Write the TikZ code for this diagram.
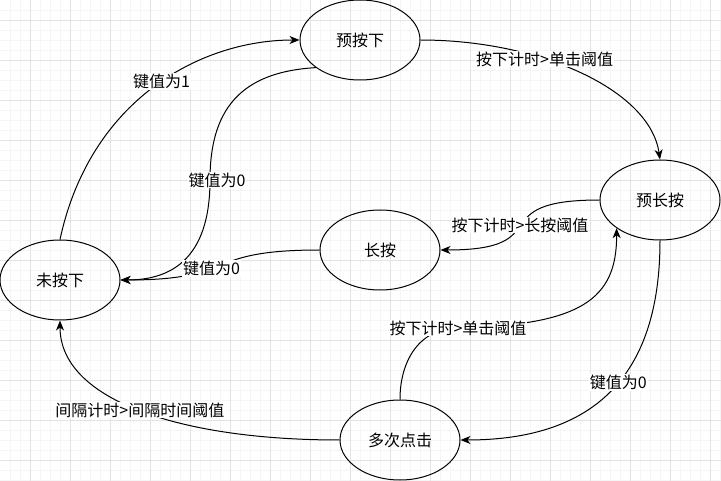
\documentclass[tikz,border=0pt]{standalone}
\usepackage{fontspec}
\setmainfont{Noto Sans CJK SC}
\usetikzlibrary{shapes.geometric,arrows.meta}

\begin{document}
\begin{tikzpicture}[x=1pt,y=-1pt,
  toestand/.style={ellipse, draw, line width=1pt, minimum width=120pt, minimum height=80pt, inner sep=0pt, font=\fontsize{16}{19}\selectfont},
  pijl/.style={line width=1pt, -{Stealth[length=10pt,width=8pt,inset=3pt]}},
  lbl/.style={fill=white, inner sep=1pt, font=\fontsize{16}{19}\selectfont}]
\useasboundingbox (0,0) rectangle (721,481);

% Raster (fijn en grof)
\foreach \x in {10,20,...,720} \draw[black!4, line width=1pt] (\x+0.5,0) -- (\x+0.5,481);
\foreach \y in {10,20,...,480} \draw[black!4, line width=1pt] (0,\y+0.5) -- (721,\y+0.5);
\foreach \x in {30,70,...,710} \draw[black!11, line width=1pt] (\x+0.5,0) -- (\x+0.5,481);
\foreach \y in {20,60,...,460} \draw[black!11, line width=1pt] (0,\y+0.5) -- (721,\y+0.5);

% Toestanden
\node[toestand] (yuan) at (360,40) {预按下};
\node[toestand] (yuchang) at (660,200) {预长按};
\node[toestand] (chang) at (380,250) {长按};
\node[toestand] (wei) at (60,280) {未按下};
\node[toestand] (duo) at (400,440) {多次点击};

% Overgangen
\draw[pijl] (wei.north) .. controls (90,100) and (200,40) .. (yuan.west) node[lbl, pos=0.53] (l1) {键值为1};
\draw[pijl] (yuan.212) .. controls (240,72) and (210,110) .. (210,180) node[lbl, xshift=7pt] (l2) {键值为0}
  .. controls (210,260) and (170,280) .. (wei.east);
\draw[pijl] (yuan.east) .. controls (540,40) and (650,90) .. (yuchang.north) node[lbl, pos=0.37] (l3) {按下计时>单击阈值};
\draw[pijl] (yuchang.west) .. controls (480,200) and (560,250) .. (chang.east) node[lbl, pos=0.5] (l4) {按下计时>长按阈值};
\draw[pijl] (chang.west) .. controls (200,250) and (240,280) .. (wei.east) node[lbl, pos=0.57] (l5) {键值为0};
\draw[pijl] (yuchang.south) .. controls (660,380) and (590,440) .. (duo.east) node[lbl, pos=0.45] (l6) {键值为0};
\draw[pijl] (duo.north) .. controls (400,360) and (420,328) .. (458,328) node[lbl] (l7) {按下计时>单击阈值}
  .. controls (580,325) and (617,300) .. (yuchang.213);
\draw[pijl] (duo.west) .. controls (180,440) and (60,400) .. (wei.south) node[lbl, pos=0.5] (l8) {间隔计时>间隔时间阈值};
\end{tikzpicture}
\end{document}
